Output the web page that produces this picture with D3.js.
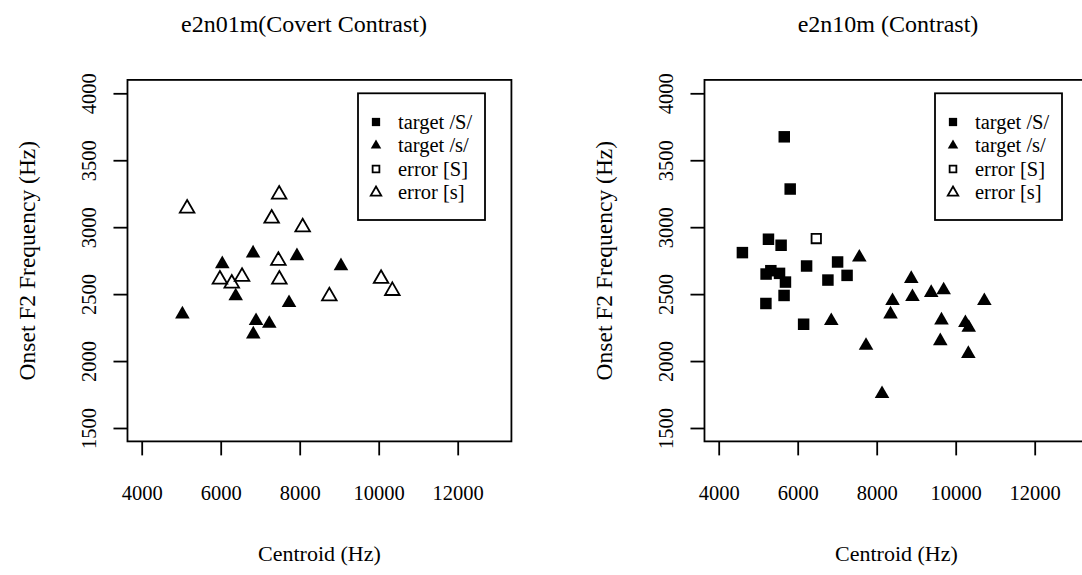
<!DOCTYPE html>
<html>
<head>
<meta charset="utf-8">
<script src="https://cdn.jsdelivr.net/npm/d3@7"></script>
<style>
  html, body { margin: 0; padding: 0; background: #fff; }
  svg { display: block; font-family: "Liberation Serif", "Times New Roman", serif; }
</style>
</head>
<body>
<svg id="chart" width="1082" height="575"></svg>
<script>
// Panel titles
const panelTitles = ["e2n01m(Covert Contrast)", "e2n10m (Contrast)"];

// Legend categories
const categories = ["target /S/", "target /s/", "error [S]", "error [s]"];

// Axis ticks
const xTicks = [4000, 6000, 8000, 10000, 12000];
const yTicks = [1500, 2000, 2500, 3000, 3500, 4000];

// e2n01m: target /s/ (filled triangles)
const e2n01mTargetS_x = [6040, 6820, 7930, 9045, 6380, 7730, 5030, 6895, 7230, 6825];
const e2n01mTargetS_y = [2725, 2805, 2785, 2710, 2485, 2435, 2350, 2300, 2280, 2200];
// e2n01m: error [s] (open triangles)
const e2n01mErrorS_x = [5150, 7480, 7290, 8075, 7460, 5980, 6280, 6540, 7485, 8750, 10060, 10345];
const e2n01mErrorS_y = [3140, 3245, 3065, 3000, 2750, 2610, 2580, 2630, 2610, 2485, 2615, 2525];

// e2n10m: target /S/ (filled squares)
const e2n10mTargetSh_x = [5660, 5810, 4600, 5260, 5580, 6225, 7010, 5200, 5320, 5540, 5690, 7250, 6765, 5655, 5195, 6150];
const e2n10mTargetSh_y = [3675, 3285, 2810, 2910, 2865, 2710, 2740, 2650, 2675, 2655, 2590, 2640, 2605, 2490, 2430, 2275];
// e2n10m: error [S] (open square)
const e2n10mErrorSh_x = [6470];
const e2n10mErrorSh_y = [2915];
// e2n10m: target /s/ (filled triangles)
const e2n10mTargetS_x = [7560, 8875, 8400, 8905, 9380, 9695, 10725, 8350, 6850, 9640, 10245, 10330, 9610, 7730, 10320, 8135];
const e2n10mTargetS_y = [2775, 2615, 2450, 2480, 2510, 2530, 2450, 2350, 2300, 2305, 2285, 2250, 2150, 2115, 2055, 1755];

const svg = d3.select("#chart");

// plotting symbols
const symFilledSquare = d3.symbol().type(d3.symbolSquare).size(132)();
const symOpenSquare = d3.symbol().type(d3.symbolSquare).size(88)();
const symTriangle = d3.symbol().type(d3.symbolTriangle).size(92)();

const styles = {
  "target /S/": { path: symFilledSquare, fill: "#000", stroke: "none" },
  "target /s/": { path: symTriangle, fill: "#000", stroke: "none" },
  "error [S]": { path: symOpenSquare, fill: "none", stroke: "#000" },
  "error [s]": { path: symTriangle, fill: "none", stroke: "#000" }
};

const zip = (xs, ys) => xs.map((x, i) => ({ x, y: ys[i] }));

const panels = [
  {
    title: panelTitles[0], dx: 0, titleX: 304,
    series: [
      { key: "target /s/", pts: zip(e2n01mTargetS_x, e2n01mTargetS_y) },
      { key: "error [s]", pts: zip(e2n01mErrorS_x, e2n01mErrorS_y) }
    ]
  },
  {
    title: panelTitles[1], dx: 577, titleX: 888,
    series: [
      { key: "target /S/", pts: zip(e2n10mTargetSh_x, e2n10mTargetSh_y) },
      { key: "error [S]", pts: zip(e2n10mErrorSh_x, e2n10mErrorSh_y) },
      { key: "target /s/", pts: zip(e2n10mTargetS_x, e2n10mTargetS_y) }
    ]
  }
];

const baseFont = 20.5;
const lw = 1.8;

panels.forEach(p => {
  const g = svg.append("g").attr("transform", `translate(${p.dx},0)`);

  // x: 4000..13000 padded by 4%; y: 1500..4000 padded by 4%
  const x = d3.scaleLinear().domain([4000, 12000]).range([141.7, 457.7]);
  const y = d3.scaleLinear().domain([1500, 4000]).range([428, 93.3]);
  const xLo = 4000 - 0.04 * 9000, xHi = 13000 + 0.04 * 9000;
  const yLo = 1500 - 0.04 * 2500, yHi = 4000 + 0.04 * 2500;

  // plot box
  g.append("rect")
    .attr("x", x(xLo)).attr("y", y(yHi))
    .attr("width", x(xHi) - x(xLo)).attr("height", y(yLo) - y(yHi))
    .attr("fill", "none").attr("stroke", "#000").attr("stroke-width", lw);

  // x axis
  const xAxis = d3.axisBottom(x).tickValues(xTicks).tickSize(14).tickPadding(30)
    .tickFormat(d3.format("d"));
  const gx = g.append("g").attr("transform", `translate(0,${y(yLo)})`).call(xAxis);
  gx.select(".domain").remove();
  gx.selectAll(".tick line").attr("stroke", "#000").attr("stroke-width", lw);
  gx.selectAll(".tick text").attr("font-size", baseFont).attr("font-family", "Liberation Serif")
    .attr("fill", "#000").attr("dy", "0.71em");

  // y axis (labels parallel to the axis)
  const yAxis = d3.axisLeft(y).tickValues(yTicks).tickSize(14).tickFormat(d3.format("d"));
  const gy = g.append("g").attr("transform", `translate(${x(xLo)},0)`).call(yAxis);
  gy.select(".domain").remove();
  gy.selectAll(".tick line").attr("stroke", "#000").attr("stroke-width", lw);
  gy.selectAll(".tick text")
    .attr("font-size", baseFont).attr("font-family", "Liberation Serif").attr("fill", "#000")
    .attr("x", null).attr("dy", null)
    .attr("text-anchor", "middle")
    .attr("transform", "translate(-31,0) rotate(-90)");

  // title
  g.append("text").attr("x", p.titleX - p.dx).attr("y", 32)
    .attr("text-anchor", "middle").attr("font-size", 24).text(p.title);

  // axis titles
  g.append("text").attr("x", (x(xLo) + x(xHi)) / 2 - 0).attr("y", 561)
    .attr("text-anchor", "middle").attr("font-size", 22).text("Centroid (Hz)");
  g.append("text")
    .attr("transform", `translate(35,${(y(yLo) + y(yHi)) / 2}) rotate(-90)`)
    .attr("text-anchor", "middle").attr("font-size", 23.5).text("Onset F2 Frequency (Hz)");

  // points
  p.series.forEach(s => {
    const st = styles[s.key];
    g.append("g").selectAll("path").data(s.pts).join("path")
      .attr("d", st.path)
      .attr("transform", d => `translate(${x(d.x)},${y(d.y)})`)
      .attr("fill", st.fill).attr("stroke", st.stroke).attr("stroke-width", lw);
  });

  // legend
  const lg = g.append("g");
  lg.append("rect").attr("x", 358).attr("y", 93.3).attr("width", 127).attr("height", 126.7)
    .attr("fill", "#fff").attr("stroke", "#000").attr("stroke-width", lw);
  categories.forEach((c, i) => {
    const cy = 122 + i * 23.5;
    const st = styles[c];
    lg.append("path").attr("d", st.path).attr("transform", `translate(376,${cy}) scale(0.72)`)
      .attr("fill", st.fill).attr("stroke", st.stroke).attr("stroke-width", lw / 0.72);
    lg.append("text").attr("x", 398).attr("y", cy).attr("dy", "0.33em")
      .attr("font-size", baseFont).text(c);
  });
});
</script>
</body>
</html>
